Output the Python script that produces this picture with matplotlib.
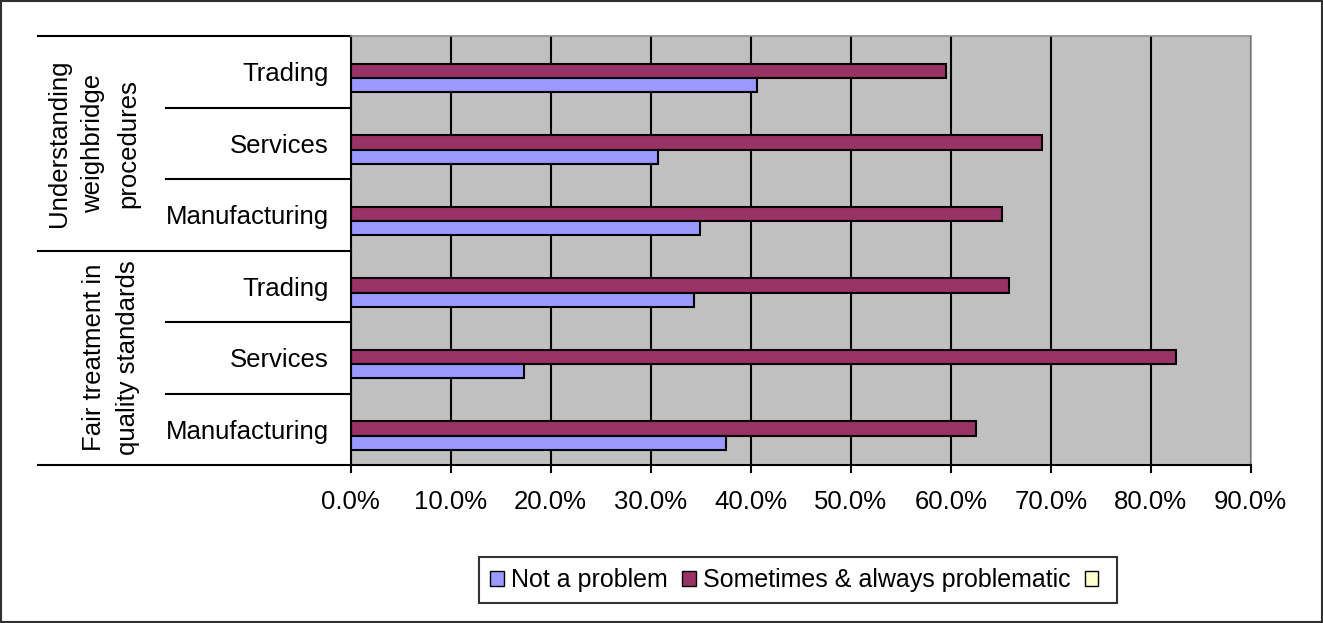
import matplotlib.pyplot as plt
from matplotlib.patches import Patch, Rectangle
from matplotlib.ticker import PercentFormatter
import numpy as np

plt.rcParams['font.family'] = ['Liberation Sans', 'DejaVu Sans']

# Data, listed top to bottom as shown in the chart
groups = ["Understanding\nweighbridge\nprocedures", "Fair treatment in\nquality standards"]
sectors = ["Trading", "Services", "Manufacturing", "Trading", "Services", "Manufacturing"]
not_a_problem = [40.6, 30.7, 34.9, 34.3, 17.3, 37.5]   # percent
problematic = [59.5, 69.1, 65.1, 65.8, 82.5, 62.5]     # percent
series_names = ["Not a problem", "Sometimes & always problematic", ""]
x_ticks = np.arange(0, 91, 10)

blue = "#9999FF"
maroon = "#993366"
pale = "#FFFFCC"
fs = 18.5

fig = plt.figure(figsize=(13.23, 6.23), dpi=100)
ax = fig.add_axes([0.2651, 0.2536, 0.6803, 0.6886])
ax.set_facecolor("#C0C0C0")

y = np.arange(len(sectors))
ax.barh(y - 0.01, problematic, height=0.2, color=maroon, edgecolor="black", linewidth=1.5)
ax.barh(y + 0.19, not_a_problem, height=0.2, color=blue, edgecolor="black", linewidth=1.5)

ax.set_xlim(0, 90)
ax.set_ylim(len(sectors) - 0.5, -0.5)
ax.set_xticks(x_ticks)
ax.xaxis.set_major_formatter(PercentFormatter(xmax=100, decimals=1))
ax.set_yticks(y)
ax.set_yticklabels(sectors)
ax.tick_params(axis="y", length=0, pad=16, labelsize=fs)
ax.tick_params(axis="x", length=6, width=1.5, pad=12, labelsize=fs, direction="out")

ax.grid(axis="x", color="black", linewidth=1.5)
ax.set_axisbelow(True)

for side in ["left", "bottom"]:
    ax.spines[side].set_color("black")
    ax.spines[side].set_linewidth(1.5)
for side in ["top", "right"]:
    ax.spines[side].set_color("#909090")
    ax.spines[side].set_linewidth(1.2)

# category table lines on the left
trans = ax.get_yaxis_transform()
for b in [0.5, 1.5, 3.5, 4.5]:
    ax.plot([-0.2052, 0], [b, b], transform=trans, color="black", lw=1.5, clip_on=False)
for b in [-0.5, 2.5, 5.5]:
    ax.plot([-0.3474, 0], [b, b], transform=trans, color="black", lw=1.5, clip_on=False)

ax.text(-0.2858, 1.0, groups[0], transform=trans, rotation=90, ha="center", va="center",
        fontsize=fs, linespacing=1.55, multialignment="center")
ax.text(-0.2663, 4.0, groups[1], transform=trans, rotation=90, ha="center", va="center",
        fontsize=fs, linespacing=1.55, multialignment="center")

handles = [Patch(facecolor=blue, edgecolor="black"),
           Patch(facecolor=maroon, edgecolor="black"),
           Patch(facecolor=pale, edgecolor="black")]
leg = fig.legend(handles, series_names, loc="center", bbox_to_anchor=(0.6032, 0.069),
                 ncol=3, fontsize=18, frameon=True, fancybox=False, edgecolor="black",
                 handlelength=0.55, handleheight=0.55, handletextpad=0.3,
                 columnspacing=0.55, borderpad=0.45, borderaxespad=0)
leg.get_frame().set_linewidth(1.5)

fig.patches.append(Rectangle((0.001, 0.002), 0.998, 0.996, transform=fig.transFigure,
                             fill=False, edgecolor="#303030", linewidth=1.5))

fig.savefig("out.png", dpi=100)
